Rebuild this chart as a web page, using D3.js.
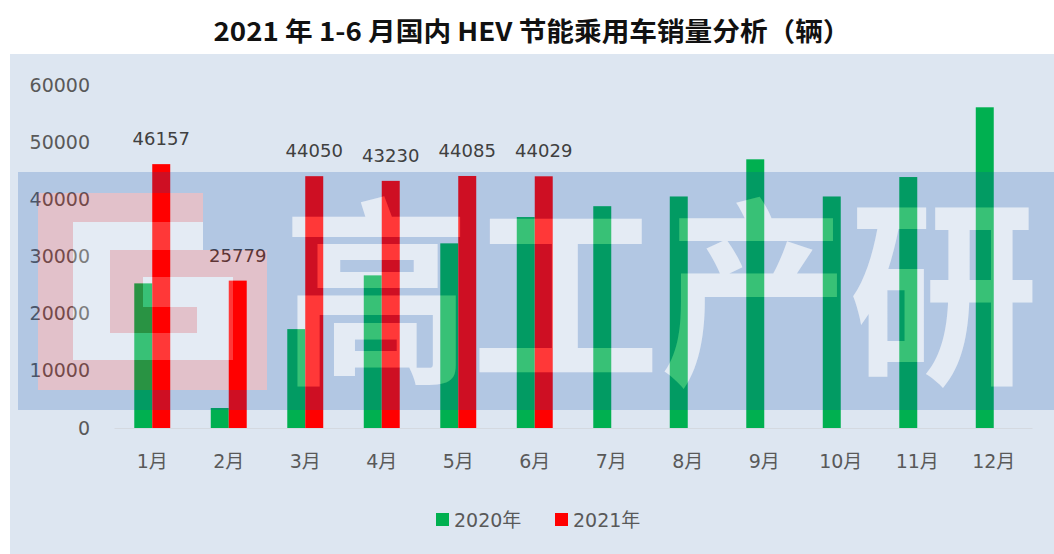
<!DOCTYPE html>
<html>
<head>
<meta charset="utf-8">
<title>HEV销量</title>
<script src="https://cdn.jsdelivr.net/npm/d3@7"></script>
<style>body{margin:0;background:#fff}</style>
</head>
<body>
<svg width="1054" height="554"></svg>
<script>

var months = ["1月","2月","3月","4月","5月","6月","7月","8月","9月","10月","11月","12月"];
var series = ["2020年","2021年"];
var sales2020 = [25300,3500,17300,26700,32300,36900,38800,40500,47000,40500,43900,56100];
var sales2021 = [46157,25779,44050,43230,44085,44029];
var yTicks = [0,10000,20000,30000,40000,50000,60000];
var colors = ["#00b050","#ff0000"];

var svg = d3.select("svg");
var font = "'DejaVu Sans','Noto Sans CJK SC',sans-serif";

// background
svg.append("rect").attr("x",10).attr("y",54).attr("width",1044).attr("height",500).attr("fill","#dde6f1");

svg.append("text")
  .attr("x",532).attr("y",41)
  .attr("text-anchor","middle")
  .attr("font-family","'Noto Sans CJK SC',sans-serif")
  .attr("font-weight","bold")
  .attr("font-size",26)
  .attr("textLength",637).attr("lengthAdjust","spacingAndGlyphs")
  .attr("fill","#111")
  .text("2021 年 1-6 月国内 HEV 节能乘用车销量分析（辆）");

var x0 = d3.scaleBand().domain(months).range([114,1032]).paddingInner(0.53).paddingOuter(0.265);
var x1 = d3.scaleBand().domain(series).range([0,x0.bandwidth()]);
var y = d3.scaleLinear().domain([0,60000]).range([428,85]);

// axes
var ya = svg.append("g").attr("transform","translate(96,0)")
  .call(d3.axisLeft(y).tickValues(yTicks).tickSize(0).tickPadding(6).tickFormat(d3.format("d")));
ya.select(".domain").remove();
ya.selectAll("text").attr("font-family",font).attr("font-size",19).attr("fill","#595959");

var xa = svg.append("g").attr("transform","translate(0,428)")
  .call(d3.axisBottom(x0).tickSize(0).tickSizeOuter(0).tickPadding(27));
xa.select(".domain").attr("stroke","#d4d9e0");
xa.selectAll("text").attr("font-family",font).attr("font-size",19).attr("fill","#595959");

// bars
var data = months.map(function(m,i){
  return {m:m, vals:[sales2020[i], i < sales2021.length ? sales2021[i] : null]};
});

var groups = svg.append("g").selectAll("g").data(data).enter().append("g")
  .attr("transform",function(d){ return "translate("+x0(d.m)+",0)"; });

groups.selectAll("rect")
  .data(function(d){ return d.vals.map(function(v,j){ return {s:series[j], v:v, j:j}; }).filter(function(e){ return e.v!=null; }); })
  .enter().append("rect")
  .attr("x",function(e){ return x1(e.s); })
  .attr("width",x1.bandwidth())
  .attr("y",function(e){ return y(e.v); })
  .attr("height",function(e){ return y(0)-y(e.v); })
  .attr("fill",function(e){ return colors[e.j]; });

// labels on 2021
svg.append("g").selectAll("text").data(sales2021).enter().append("text")
  .attr("x",function(d,i){ return x0(months[i]) + x1(series[1]) + x1.bandwidth()/2; })
  .attr("y",function(d){ return y(d) - 19; })
  .attr("text-anchor","middle")
  .attr("font-family",font).attr("font-size",18).attr("fill","#404040")
  .text(function(d){ return d; });

// watermark (band with the letters cut out)
var defs = svg.append("defs");
var mask = defs.append("mask").attr("id","wm");
mask.append("rect").attr("x",0).attr("y",0).attr("width",1054).attr("height",554).attr("fill","#fff");
mask.append("text").attr("x",282).attr("y",368)
  .attr("font-family","'Noto Sans CJK SC',sans-serif").attr("font-weight",700).attr("font-size",200)
  .attr("textLength",756).attr("lengthAdjust","spacingAndGlyphs")
  .attr("fill","#000").text("高工产研");
mask.append("path").attr("d","M38,193H203V250H267V390H38Z").attr("fill","#000");

svg.append("rect").attr("x",18).attr("y",172).attr("width",1036).attr("height",238)
  .attr("fill","rgb(10,75,175)").attr("fill-opacity",0.2).attr("mask","url(#wm)");

svg.append("text").attr("x",282).attr("y",368)
  .attr("font-family","'Noto Sans CJK SC',sans-serif").attr("font-weight",700).attr("font-size",200)
  .attr("textLength",756).attr("lengthAdjust","spacingAndGlyphs")
  .attr("fill","#fff").attr("fill-opacity",0.22).text("高工产研");

var pink = [[38,193,165,29],[38,222,35,168],[73,360,194,30],[233,250,34,110],[110,250,123,27],[110,277,33,56],[143,307,54,26]];
var white = [[73,222,130,28],[73,250,37,110],[110,333,123,27],[143,277,90,30],[197,307,36,26]];
svg.append("g").selectAll("rect").data(pink).enter().append("rect")
  .attr("x",function(d){return d[0];}).attr("y",function(d){return d[1];})
  .attr("width",function(d){return d[2];}).attr("height",function(d){return d[3];})
  .attr("fill","#ff0000").attr("fill-opacity",0.16);
svg.append("g").selectAll("rect").data(white).enter().append("rect")
  .attr("x",function(d){return d[0];}).attr("y",function(d){return d[1];})
  .attr("width",function(d){return d[2];}).attr("height",function(d){return d[3];})
  .attr("fill","#fff").attr("fill-opacity",0.22);

// legend
var lg = svg.append("g").selectAll("g").data(series).enter().append("g")
  .attr("transform",function(d,i){ return "translate("+(436+i*119)+",513)"; });
lg.append("rect").attr("width",13).attr("height",13).attr("fill",function(d,i){ return colors[i]; });
lg.append("text").attr("x",18).attr("y",13.5)
  .attr("font-family",font).attr("font-size",19).attr("fill","#595959")
  .text(function(d){ return d; });

</script>
</body>
</html>
